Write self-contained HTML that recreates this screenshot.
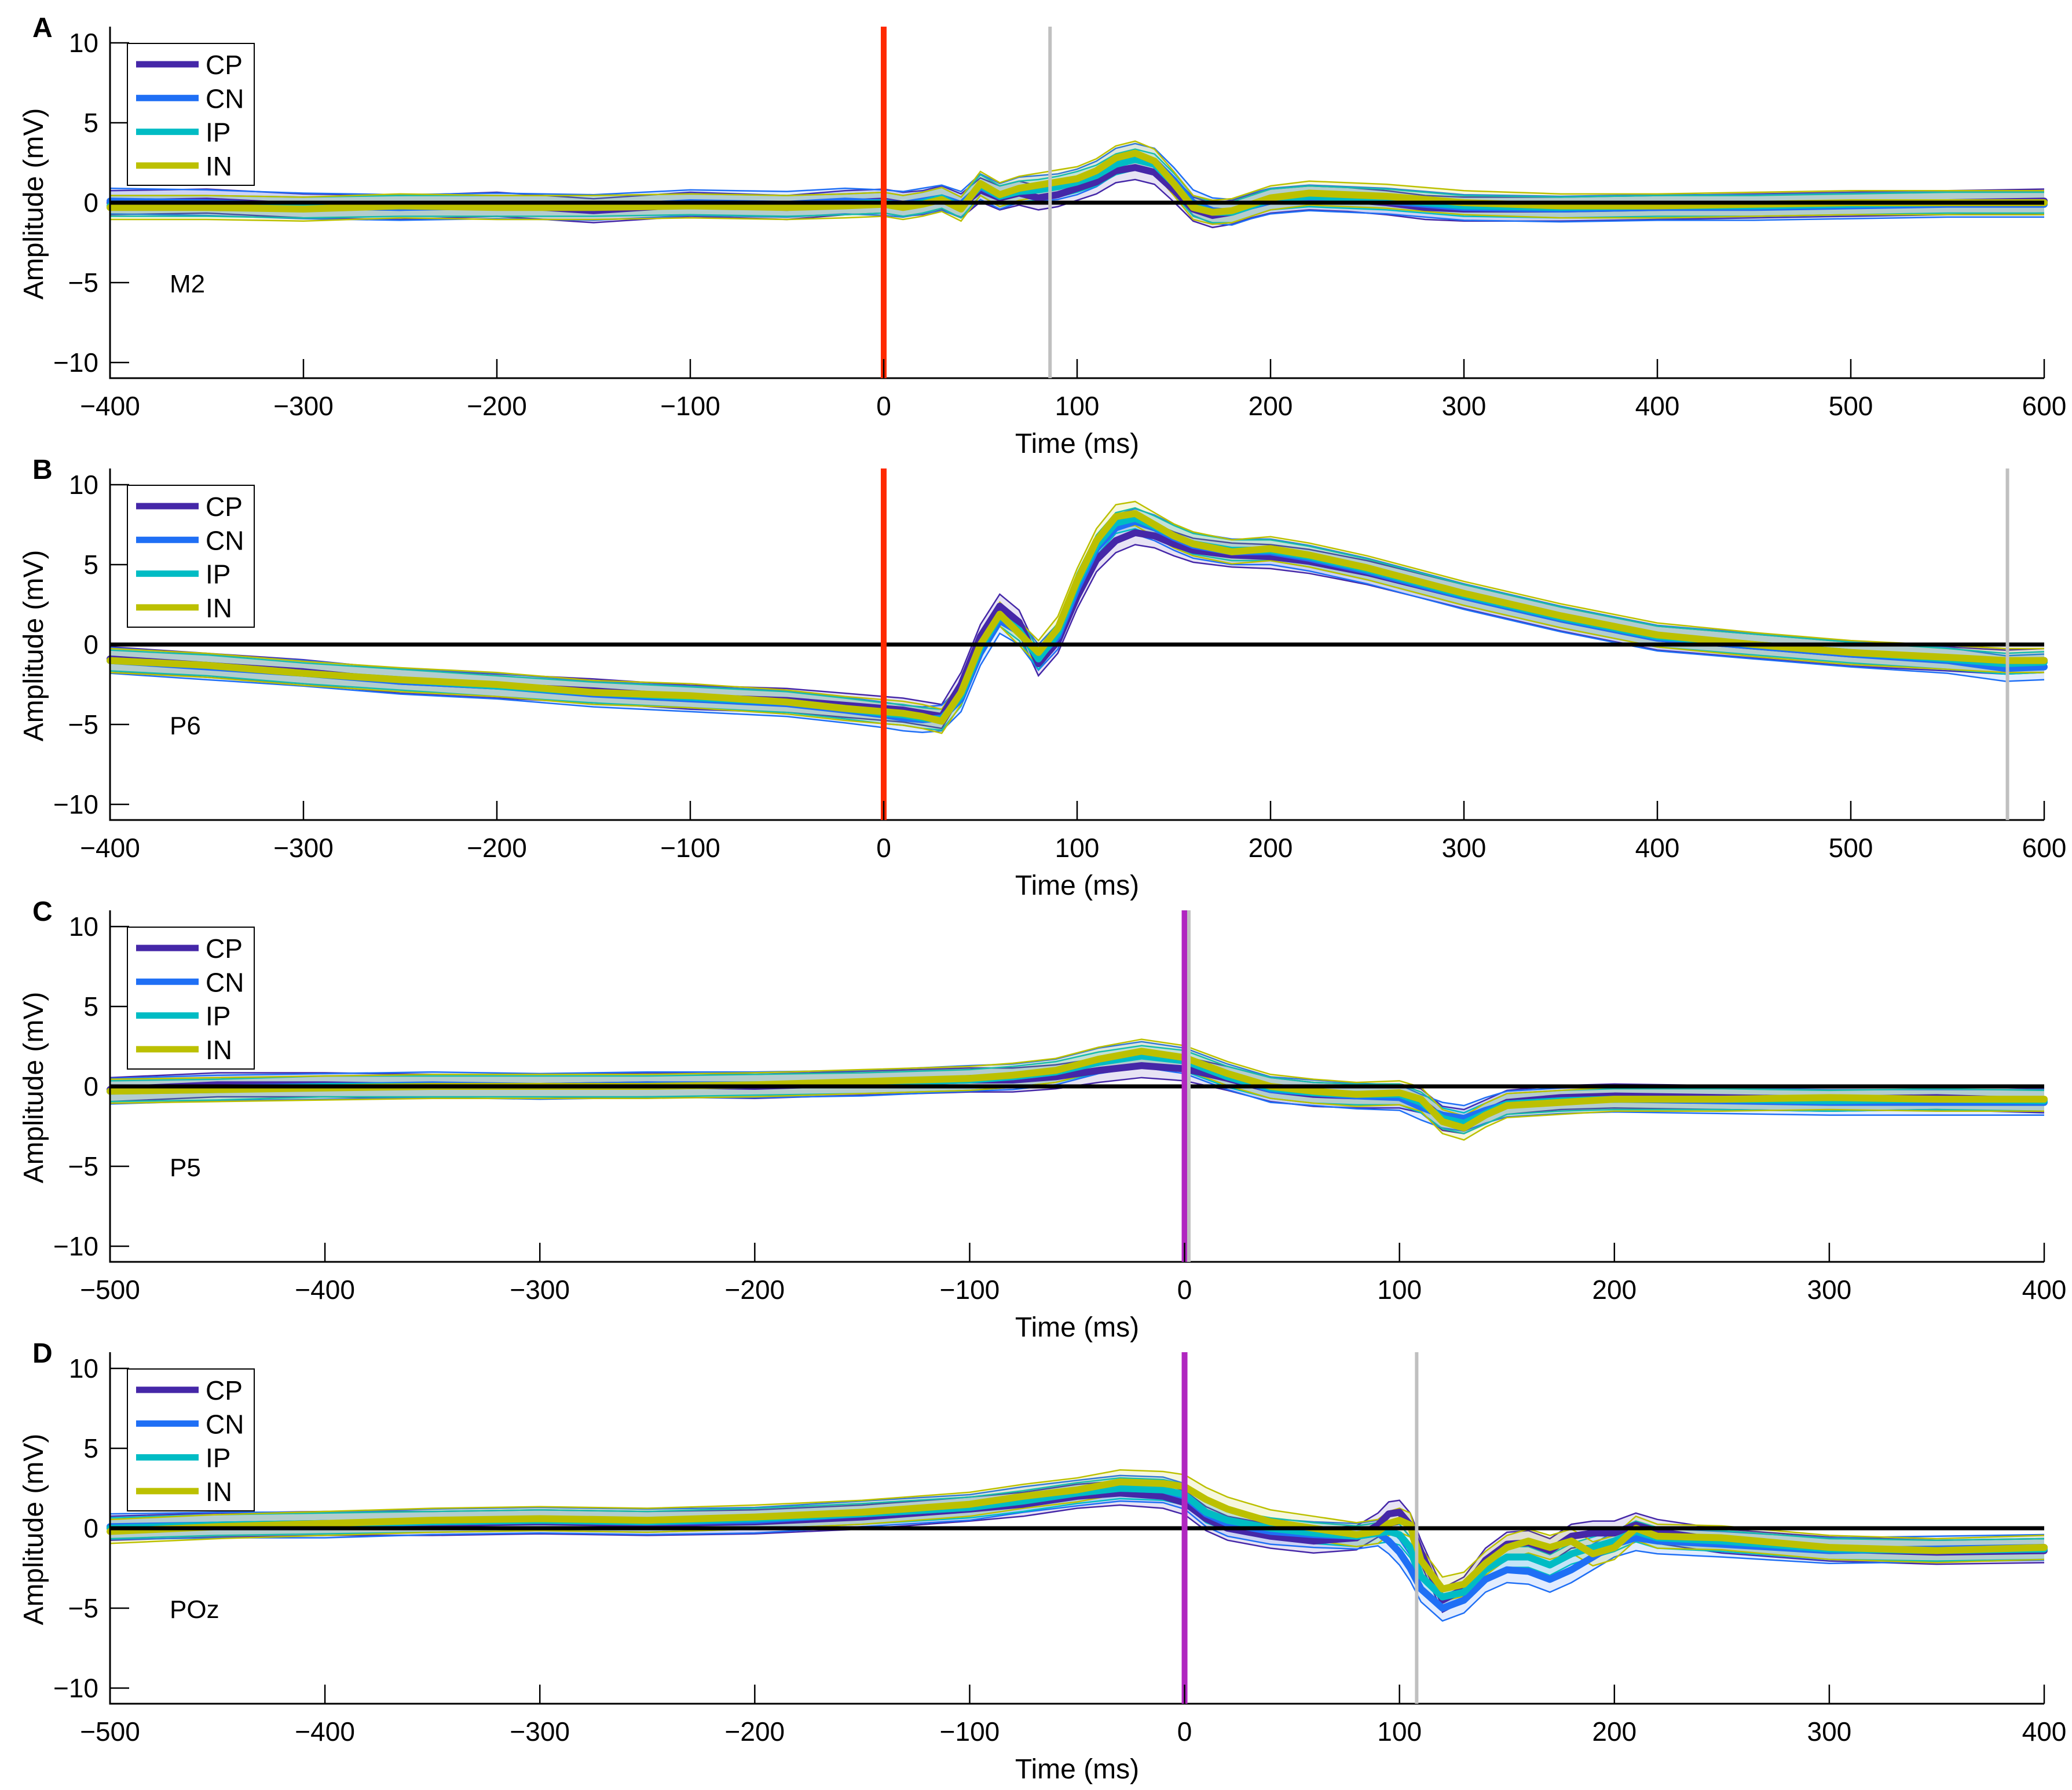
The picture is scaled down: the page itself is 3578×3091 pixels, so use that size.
<!DOCTYPE html>
<html><head><meta charset="utf-8"><style>
html,body{margin:0;padding:0;background:#fff}
svg{display:block}
text{font-family:"Liberation Sans",Arial,sans-serif}
</style></head>
<body>
<svg id="fig" width="3578" height="3091" viewBox="0 0 3578 3091" xmlns="http://www.w3.org/2000/svg"></svg>
<script>
// ---- Panel A (M2) ----
const tA=[-400,-350,-300,-250,-200,-150,-100,-50,-20,0,10,20,30,40,50,60,70,80,90,100,110,120,130,140,150,160,170,180,190,200,220,240,260,280,300,350,400,450,500,550,600];
const cpA=[0.0,0.1,-0.2,-0.3,-0.1,-0.5,-0.1,-0.3,0.0,0.1,-0.1,0.0,0.3,-0.2,0.8,0.3,0.6,0.3,0.5,0.9,1.3,2.0,2.2,1.9,0.8,-0.4,-0.8,-0.6,-0.2,0.1,0.3,0.2,0.0,-0.3,-0.4,-0.4,-0.3,-0.2,-0.1,0.0,0.1];
const cnA=[0.1,0.0,-0.2,-0.3,-0.2,-0.3,0.0,-0.1,0.1,0.0,-0.1,0.1,0.3,-0.1,1.0,0.4,0.8,0.9,1.0,1.3,1.8,2.6,2.9,2.6,1.4,0.0,-0.5,-0.6,-0.2,0.1,0.3,0.2,0.1,-0.1,-0.3,-0.4,-0.3,-0.3,-0.2,-0.1,-0.1];
const ipA=[-0.2,-0.2,-0.3,-0.2,-0.2,-0.2,-0.1,-0.2,-0.1,0.0,-0.2,0.0,0.3,-0.3,1.1,0.4,0.7,0.8,1.0,1.3,1.7,2.4,2.7,2.4,1.2,-0.2,-0.6,-0.6,-0.2,0.2,0.4,0.3,0.2,0.0,-0.2,-0.3,-0.2,-0.2,-0.1,0.0,0.0];
const inA=[-0.3,-0.3,-0.4,-0.2,-0.3,-0.3,-0.2,-0.3,-0.2,-0.1,-0.3,-0.1,0.2,-0.4,1.2,0.5,0.9,1.1,1.3,1.5,2.0,2.8,3.1,2.6,1.2,-0.3,-0.6,-0.5,-0.1,0.3,0.6,0.5,0.4,0.2,0.0,-0.2,-0.2,-0.1,0.0,0.0,0.0];
// ---- Panel B (P6) ----
const tB=[-400,-350,-300,-250,-200,-150,-100,-50,-20,0,10,20,30,40,50,60,70,80,90,100,110,120,130,140,150,160,180,200,220,250,300,350,400,450,500,550,580,600];
const cpB=[-0.9,-1.3,-1.7,-2.3,-2.6,-2.9,-3.3,-3.5,-3.8,-4.0,-4.1,-4.3,-4.5,-2.5,0.5,2.4,1.4,-1.2,0.2,3.0,5.3,6.5,7.0,6.8,6.3,5.9,5.6,5.5,5.2,4.5,3.0,1.6,0.4,-0.1,-0.6,-0.9,-1.1,-1.0];
const cnB=[-1.0,-1.4,-1.8,-2.3,-2.6,-3.1,-3.4,-3.7,-4.1,-4.4,-4.6,-4.7,-4.6,-3.4,-0.5,1.5,0.8,-0.8,0.5,3.5,6.0,7.3,7.7,7.3,6.7,6.2,5.8,5.8,5.4,4.6,3.0,1.6,0.4,-0.1,-0.6,-1.0,-1.5,-1.4];
const ipB=[-1.0,-1.3,-1.8,-2.2,-2.6,-3.0,-3.3,-3.6,-4.0,-4.3,-4.4,-4.6,-4.7,-3.2,-0.2,1.8,0.9,-0.9,0.7,3.8,6.2,7.6,7.9,7.4,6.8,6.3,5.9,5.9,5.5,4.7,3.1,1.7,0.5,0.0,-0.5,-0.9,-1.2,-1.1];
const inB=[-1.0,-1.3,-1.8,-2.2,-2.5,-3.0,-3.2,-3.6,-4.0,-4.2,-4.3,-4.5,-4.8,-3.0,0.0,1.9,0.7,-0.5,1.0,4.0,6.5,8.0,8.2,7.5,6.8,6.3,5.8,6.0,5.6,4.8,3.2,1.8,0.6,0.0,-0.5,-0.8,-1.0,-1.0];
// ---- Panel C (P5) ----
const tC=[-500,-450,-400,-350,-300,-250,-200,-150,-100,-80,-60,-40,-20,0,20,40,60,80,100,110,120,130,140,150,175,200,250,300,350,400];
const cpC=[-0.2,0.1,0.1,0.0,0.0,0.1,0.0,0.2,0.4,0.4,0.6,1.0,1.3,1.1,0.5,-0.2,-0.5,-0.6,-0.6,-0.9,-2.0,-2.2,-1.6,-1.0,-0.7,-0.6,-0.7,-0.8,-0.7,-0.9];
const cnC=[-0.3,-0.1,0.0,0.1,0.0,0.1,0.1,0.2,0.5,0.6,0.9,1.6,2.0,1.6,0.6,-0.2,-0.4,-0.6,-0.7,-1.3,-1.8,-2.0,-1.5,-1.1,-0.9,-0.8,-0.9,-1.0,-1.0,-1.0];
const ipC=[-0.3,-0.2,0.0,0.0,0.0,0.0,0.1,0.2,0.4,0.6,0.9,1.5,1.9,1.6,0.6,-0.1,-0.4,-0.5,-0.5,-1.0,-2.0,-2.3,-1.7,-1.1,-0.9,-0.8,-0.8,-0.9,-0.8,-0.9];
const inC=[-0.3,-0.2,-0.1,0.0,0.0,0.0,0.1,0.3,0.5,0.7,1.0,1.7,2.2,1.8,0.8,0.0,-0.3,-0.5,-0.4,-0.8,-2.2,-2.6,-1.8,-1.2,-1.0,-0.8,-0.8,-0.7,-0.8,-0.8];
// ---- Panel D (POz) ----
const tD=[-500,-450,-400,-350,-300,-250,-200,-150,-100,-75,-50,-30,-10,0,10,20,40,60,80,90,95,100,105,110,120,130,140,150,160,170,180,190,200,210,220,250,300,350,400];
const cpD=[0.0,0.2,0.3,0.3,0.4,0.3,0.4,0.7,1.2,1.5,2.0,2.2,2.0,1.6,0.6,0.0,-0.5,-0.8,-0.6,0.2,0.9,1.0,0.2,-1.5,-4.5,-3.8,-2.0,-1.0,-0.9,-1.4,-0.5,-0.3,-0.3,0.2,-0.2,-0.8,-1.3,-1.5,-1.4];
const cnD=[0.1,0.2,0.2,0.4,0.5,0.4,0.5,0.9,1.3,1.8,2.2,2.5,2.4,2.0,0.9,0.3,-0.2,-0.4,-0.5,-0.3,-0.8,-1.5,-2.5,-3.8,-5.0,-4.5,-3.2,-2.6,-2.7,-3.2,-2.6,-1.8,-1.0,-0.6,-0.8,-1.0,-1.4,-1.3,-1.2];
const ipD=[0.0,0.2,0.3,0.4,0.5,0.4,0.6,0.9,1.3,1.7,2.2,2.5,2.4,2.1,1.0,0.5,0.0,-0.3,-0.5,-0.3,-0.2,-0.4,-1.2,-3.0,-4.3,-4.0,-2.6,-1.8,-1.8,-2.3,-1.6,-1.2,-0.8,-0.2,-0.6,-0.8,-1.3,-1.4,-1.3];
const inD=[-0.2,0.1,0.3,0.5,0.6,0.5,0.7,1.0,1.5,2.0,2.4,2.9,2.8,2.6,1.8,1.2,0.4,0.0,-0.4,-0.2,0.3,0.5,0.2,-2.0,-3.8,-3.5,-2.2,-1.2,-0.8,-1.2,-0.8,-1.6,-1.2,0.0,-0.5,-0.6,-1.2,-1.4,-1.2];
// shared
const condNames=["CP","CN","IP","IN"];
const semWidth=[0.75,0.8,0.65,0.75];
const yTicks=[-10,-5,0,5,10];
const xTicksAB=[-400,-300,-200,-100,0,100,200,300,400,500,600];
const xTicksCD=[-500,-400,-300,-200,-100,0,100,200,300,400];
const markersA=[0,86], markersB=[0,581], markersC=[0,2], markersD=[0,108];
const chanLabels=["M2","P6","P5","POz"];
const panelLetters=["A","B","C","D"];

const colors=["#4527a8","#1f6ff5","#00bcc4","#bcc000"];
const NS="http://www.w3.org/2000/svg";
const svg=document.getElementById("fig");
function mk(tag,attrs,parent){const e=document.createElementNS(NS,tag);for(const k in attrs)e.setAttribute(k,attrs[k]);(parent||svg).appendChild(e);return e;}

const panels=[
 {t:tA,s:[cpA,cnA,ipA,inA],xt:xTicksAB,xmin:-400,xmax:600,mk:markersA,mc:"#ff2a00"},
 {t:tB,s:[cpB,cnB,ipB,inB],xt:xTicksAB,xmin:-400,xmax:600,mk:markersB,mc:"#ff2a00"},
 {t:tC,s:[cpC,cnC,ipC,inC],xt:xTicksCD,xmin:-500,xmax:400,mk:markersC,mc:"#b026c0"},
 {t:tD,s:[cpD,cnD,ipD,inD],xt:xTicksCD,xmin:-500,xmax:400,mk:markersD,mc:"#b026c0"}
];
const X0=190,X1=3530,PSTEP=763;

panels.forEach((p,i)=>{
  const dy=i*PSTEP;
  const g=mk("g",{});
  
  
  const xs=v=>X0+(v-p.xmin)/(p.xmax-p.xmin)*(X1-X0);
  const ys=v=>350+dy-v*27.6;
  p.s.forEach((ser,c)=>{
    const up=p.t.map((t,k)=>xs(t)+","+ys(ser[k]+semWidth[c]));
    const lo=p.t.map((t,k)=>xs(t)+","+ys(ser[k]-semWidth[c])).reverse();
    const band=mk("polygon",{points:up.concat(lo).join(" "),fill:colors[c],"fill-opacity":"0.13",stroke:"none"},g);
    
    
    const e1=mk("polyline",{points:up.join(" "),fill:"none",stroke:colors[c],"stroke-width":"2.5"},g);
    
    
    const e2=mk("polyline",{points:lo.join(" "),fill:"none",stroke:colors[c],"stroke-width":"2.5"},g);
    
    
  });
  p.s.forEach((ser,c)=>{
    const pts=p.t.map((t,k)=>xs(t)+","+ys(ser[k])).join(" ");
    const l=mk("polyline",{points:pts,fill:"none",stroke:colors[c],"stroke-width":"12","stroke-linejoin":"round","stroke-linecap":"round"},g);
    
    
  });
  const z=mk("line",{x1:X0,x2:X1,y1:ys(0),y2:ys(0),stroke:"#000","stroke-width":"7"},g);
  
  
  const ax=mk("path",{d:`M${X0},${46+dy} V${653+dy} H${X1}`,fill:"none",stroke:"#000","stroke-width":"3"},g);
  
  
  p.mk.forEach((m,k)=>{
    const ml=mk("line",{x1:xs(m),x2:xs(m),y1:46+dy,y2:653+dy,stroke:k===0?p.mc:"#c0c0c0","stroke-width":k===0?"10":"6"},g);
    
    
  });
  yTicks.forEach(v=>{
    const tk=mk("line",{x1:X0,x2:X0+33,y1:ys(v),y2:ys(v),stroke:"#000","stroke-width":"2.5"},g);
    
    
    const tl=mk("text",{x:X0-20,y:ys(v)+16,"text-anchor":"end","font-size":"46"},g);
    
    
    tl.textContent=v<0?"\u2212"+Math.abs(v):String(v);
  });
  p.xt.forEach(v=>{
    const tk=mk("line",{x1:xs(v),x2:xs(v),y1:653+dy,y2:620+dy,stroke:"#000","stroke-width":"2.5"},g);
    
    
    const tl=mk("text",{x:xs(v),y:717+dy,"text-anchor":"middle","font-size":"46"},g);
    
    
    tl.textContent=v<0?"\u2212"+Math.abs(v):String(v);
  });
  const xt=mk("text",{x:1860,y:782+dy,"text-anchor":"middle","font-size":"48"},g);
  
  
  xt.textContent="Time (ms)";
  const yt=mk("text",{x:0,y:0,"text-anchor":"middle","font-size":"48",transform:`translate(74,${352+dy}) rotate(-90)`},g);
  
  
  yt.textContent="Amplitude (mV)";
  const pl=mk("text",{x:56,y:64+dy,"font-size":"48","font-weight":"bold"},g);
  
  
  pl.textContent=panelLetters[i];
  const cl=mk("text",{x:293,y:505+dy,"font-size":"44"},g);
  
  
  cl.textContent=chanLabels[i];
  const lg=mk("g",{},g);
  
  
  const lb=mk("rect",{x:220,y:75+dy,width:219,height:245,fill:"#fff",stroke:"#000","stroke-width":"2"},lg);
  
  
  condNames.forEach((n,c)=>{
    const yy=111+dy+c*58.3;
    const ll=mk("line",{x1:235,x2:343,y1:yy,y2:yy,stroke:colors[c],"stroke-width":"11"},lg);
    
    
    const lt=mk("text",{x:355,y:yy+17,"font-size":"46"},lg);
    
    
    lt.textContent=n;
  });
});
</script>
</body></html>
